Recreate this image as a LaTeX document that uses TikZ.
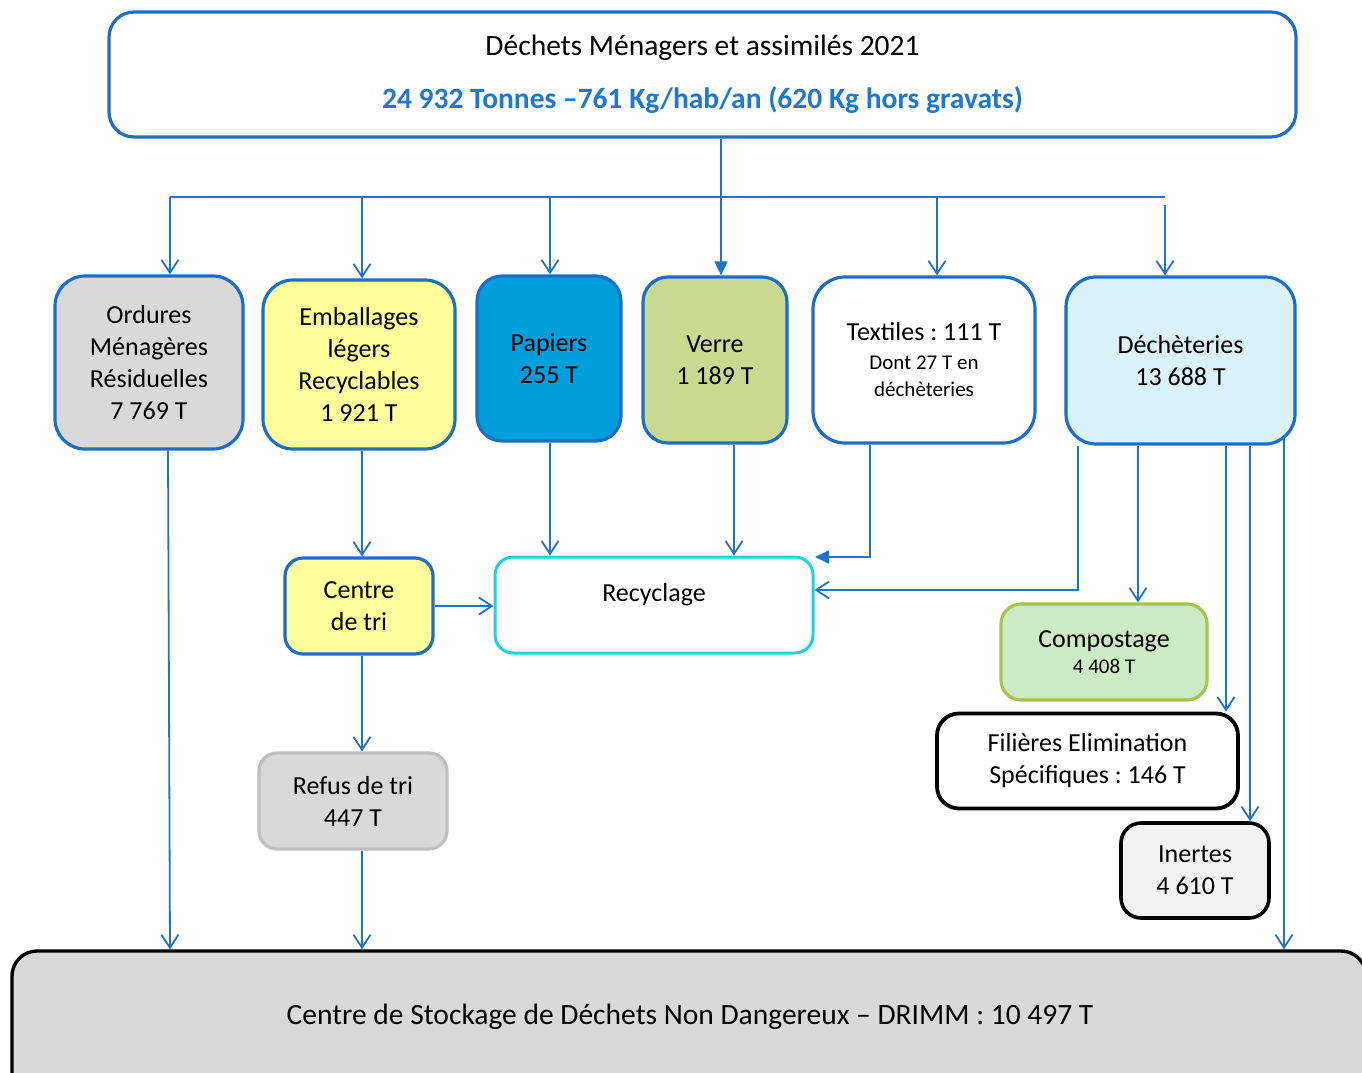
\documentclass[tikz,border=0pt]{standalone}
\usepackage{fontspec}
\setmainfont{Carlito}
\usetikzlibrary{arrows.meta}
\definecolor{lnblue}{RGB}{30,115,205}
\definecolor{bdblue}{RGB}{28,110,198}
\definecolor{txblue}{RGB}{31,120,207}
\definecolor{gry}{RGB}{217,217,217}
\definecolor{ylw}{RGB}{255,255,156}
\definecolor{papb}{RGB}{0,158,218}
\definecolor{vgrn}{RGB}{200,217,145}
\definecolor{dcyan}{RGB}{219,243,248}
\definecolor{rcyan}{RGB}{30,210,222}
\definecolor{cgrn}{RGB}{204,235,196}
\definecolor{cgrnb}{RGB}{165,198,75}
\definecolor{lgry}{RGB}{242,242,242}
\definecolor{rgry}{RGB}{191,191,191}
\frenchspacing
\tikzset{
  bx/.style={draw=bdblue, line width=3.2pt, inner sep=0pt, align=center,
    font=\fontsize{26}{32}\selectfont},
  conn/.style={draw=lnblue, line width=1.8pt},
  opentip/.style={-{Straight Barb[length=13pt,width=17pt]}},
  filltip/.style={-{Triangle[length=14pt,width=13pt]}},
  bigtxt/.style={font=\fontsize{29.5}{36}\selectfont},
}
\begin{document}
\begin{tikzpicture}[x=1pt,y=-1pt]
\useasboundingbox (0,0) rectangle (1362,1073);
% top box
\node[bx, bigtxt, rounded corners=25, minimum width=1187, minimum height=125, fill=white] (top) at (702.5,74.5)
  {Déchets Ménagers et assimilés 2021\\[17pt]
   {\color{txblue}\bfseries 24 932 Tonnes –761 Kg/hab/an (620 Kg hors gravats)}};
% row 1
\node[bx, rounded corners=30, minimum width=188, minimum height=173, fill=gry] (ord) at (149,362.5)
  {Ordures\\Ménagères\\Résiduelles\\7 769 T};
\node[bx, rounded corners=30, minimum width=192, minimum height=169, fill=ylw] (emb) at (359,364.5)
  {Emballages\\légers\\Recyclables\\1 921 T};
\node[bx, rounded corners=25, minimum width=144, minimum height=165, fill=papb] (pap) at (549,358.5)
  {Papiers\\255 T};
\node[bx, rounded corners=25, minimum width=144, minimum height=166, fill=vgrn] (ver) at (715,360)
  {Verre\\1 189 T};
\node[bx, rounded corners=32, minimum width=222, minimum height=166, fill=white] (tex) at (924,360)
  {Textiles : 111 T\\[-3pt]{\fontsize{21}{25}\selectfont Dont 27 T en}\\[-5pt]{\fontsize{21}{25}\selectfont déchèteries}};
\node[bx, rounded corners=30, minimum width=229, minimum height=167, fill=dcyan] (dec) at (1180.5,360.5)
  {Déchèteries\\13 688 T};
% row 2
\node[bx, rounded corners=18, minimum width=148, minimum height=96, fill=ylw] (tri) at (359,606)
  {Centre\\de tri};
\node[bx, draw=rcyan, line width=3pt, rounded corners=18, minimum width=318, minimum height=96, fill=white] (rec) at (654,605) {};
\node[font=\fontsize{26}{32}\selectfont] (rect) at (654,595) {Recyclage};
\node[bx, draw=cgrnb, rounded corners=20, minimum width=206, minimum height=96, fill=cgrn] (com) at (1104,652)
  {Compostage\\[-6pt]{\fontsize{21}{24}\selectfont 4 408 T}};
\node[bx, draw=black, line width=3.8pt, rounded corners=22, minimum width=301, minimum height=95, fill=white] (fil) at (1087.5,761)
  {Filières Elimination\\Spécifiques : 146 T};
\node[bx, draw=black, line width=3.6pt, rounded corners=20, minimum width=148, minimum height=95, fill=lgry] (ine) at (1195,870.5)
  {Inertes\\4 610 T};
\node[bx, draw=rgry, rounded corners=18, minimum width=188, minimum height=96, fill=gry] (ref) at (353,801)
  {Refus de tri\\447 T};
% bottom
\node[bx, draw=black, line width=3.4pt, rounded corners=25, minimum width=1354, minimum height=160, fill=gry] (cs) at (689,1031) {};
\node[bigtxt] (cst) at (690,1017) {Centre de Stockage de Déchets Non Dangereux – DRIMM : 10 497 T};
% distribution
\coordinate (hl) at (170,197);
\coordinate (hr) at (1165,197);
\draw[conn] (hl) -- (hr);
\draw[conn, filltip] (721,0 |- top.south) -- (721,0 |- ver.north);
\draw[conn, opentip] (hl) -- (170,0 |- ord.north);
\draw[conn, opentip] (362,197) -- (362,0 |- emb.north);
\draw[conn, opentip] (550,197) -- (550,0 |- pap.north);
\draw[conn, opentip] (937,197) -- (937,0 |- tex.north);
\draw[conn, opentip] (1165,205) -- (1165,0 |- dec.north);
% downstream
\draw[conn, opentip] (168,0 |- ord.south) -- (170,0 |- cs.north);
\draw[conn, opentip] (362,0 |- emb.south) -- (362,0 |- tri.north);
\draw[conn, opentip] (550,0 |- pap.south) -- (550,0 |- rec.north);
\draw[conn, opentip] (734,0 |- ver.south) -- (734,0 |- rec.north);
\draw[conn, filltip] (870,0 |- tex.south) -- (870,557) -- (815,557);
\draw[conn, opentip] (1078,0 |- dec.south) -- (1078,590) -- (rec.east |- 0,590);
\draw[conn, opentip] (1138,0 |- dec.south) -- (1138,0 |- com.north);
\draw[conn, opentip] (1226,0 |- dec.south) -- (1226,0 |- fil.north);
\draw[conn, opentip] (1250,0 |- dec.south) -- (1250,0 |- ine.north);
\draw[conn, opentip] (1284,435) -- (1284,0 |- cs.north);
\draw[conn, opentip] (tri.east) -- (rec.west |- tri.east);
\draw[conn, opentip] (362,0 |- tri.south) -- (362,0 |- ref.north);
\draw[conn, opentip] (362,0 |- ref.south) -- (362,0 |- cs.north);
\end{tikzpicture}
\end{document}
